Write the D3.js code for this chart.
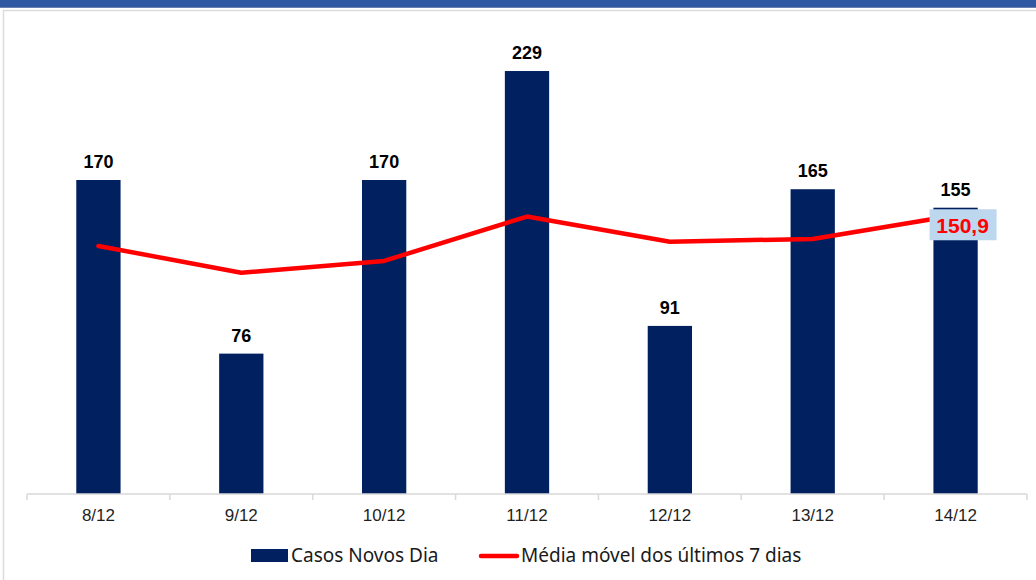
<!DOCTYPE html>
<html>
<head>
<meta charset="utf-8">
<script src="https://cdn.jsdelivr.net/npm/d3@7"></script>
<style>
  html, body { margin: 0; padding: 0; background: #fff; }
  svg { display: block; }
</style>
</head>
<body>
<svg id="chart" width="1036" height="580"></svg>
<script>
// data
const categories = ['8/12', '9/12', '10/12', '11/12', '12/12', '13/12', '14/12'];
const casosNovos = [170, 76, 170, 229, 91, 165, 155];
const mediaMovel = [134.3, 119.8, 126.2, 150.2, 136.6, 138.1, 150.9];
const seriesNames = ['Casos Novos Dia', 'Média móvel dos últimos 7 dias'];

const svg = d3.select('#chart');
const W = 1036, H = 580;

// top band + frame
svg.append('rect').attr('x', 0).attr('y', 0).attr('width', W).attr('height', 8).attr('fill', '#3057a2');
svg.append('rect').attr('x', 0).attr('y', 7).attr('width', W).attr('height', 1).attr('fill', '#6a7fb0');
svg.append('rect').attr('x', 3.5).attr('y', 10.5).attr('width', W + 10).attr('height', H)
  .attr('fill', '#fff').attr('stroke', '#dcdcdc').attr('stroke-width', 1.5);

const left = 27, right = 1027, base = 494;

const x = d3.scaleBand().domain(categories).range([left, right]).paddingInner(0.69).paddingOuter(0.345);
const xb = d3.scaleBand().domain(categories).range([left, right]);
const y = d3.scaleLinear().domain([0, 170]).range([base, 180]);

// bars
svg.append('g').selectAll('rect').data(casosNovos).join('rect')
  .attr('x', (d, i) => x(categories[i]))
  .attr('y', d => y(d))
  .attr('width', x.bandwidth())
  .attr('height', d => base - y(d))
  .attr('fill', '#002060');

// axis
const ax = svg.append('g').attr('transform', `translate(0,${base})`);
ax.append('line').attr('x1', left).attr('x2', right).attr('stroke', '#d9d9d9').attr('stroke-width', 1.5);
ax.selectAll('line.tk').data(categories.concat(['end'])).join('line').attr('class', 'tk')
  .attr('x1', (d, i) => left + i * xb.bandwidth()).attr('x2', (d, i) => left + i * xb.bandwidth())
  .attr('y1', 0).attr('y2', 6).attr('stroke', '#d9d9d9').attr('stroke-width', 1.5);
ax.selectAll('text').data(categories).join('text')
  .attr('x', d => xb(d) + xb.bandwidth() / 2).attr('y', 27)
  .attr('text-anchor', 'middle').attr('font-family', 'Liberation Sans, Arial, sans-serif')
  .attr('font-size', 17).attr('fill', '#1f1f1f').text(d => d);

// bar labels
svg.append('g').selectAll('text').data(casosNovos).join('text')
  .attr('x', (d, i) => xb(categories[i]) + xb.bandwidth() / 2)
  .attr('y', d => y(d) - 12)
  .attr('text-anchor', 'middle').attr('font-family', 'Liberation Sans, Arial, sans-serif')
  .attr('font-weight', 'bold').attr('font-size', 18).attr('fill', '#000')
  .text(d => d);

// moving average line
const line = d3.line().x((d, i) => xb(categories[i]) + xb.bandwidth() / 2).y(d => y(d));
svg.append('path').datum(mediaMovel).attr('d', line)
  .attr('fill', 'none').attr('stroke', '#ff0000').attr('stroke-width', 4.5)
  .attr('stroke-linejoin', 'round').attr('stroke-linecap', 'round');

// last value label
const li = mediaMovel.length - 1;
const lx = xb(categories[li]) + xb.bandwidth() / 2 + 7;
const ly = y(mediaMovel[li]) + 11;
svg.append('rect').attr('x', lx - 33).attr('y', ly - 17).attr('width', 67).attr('height', 31).attr('fill', '#bdd7ee');
svg.append('text').attr('x', lx).attr('y', ly + 7)
  .attr('text-anchor', 'middle').attr('font-family', 'Liberation Sans, Arial, sans-serif')
  .attr('font-weight', 'bold').attr('font-size', 21).attr('fill', '#ff0000')
  .text(d3.format('.1f')(mediaMovel[li]).replace('.', ','));

// legend
const lg = svg.append('g').attr('font-family', 'Noto Sans, Open Sans, sans-serif').attr('font-size', 19).attr('fill', '#1a1a1a');
lg.append('rect').attr('x', 251).attr('y', 549).attr('width', 37).attr('height', 13).attr('fill', '#002060');
lg.append('text').attr('x', 291).attr('y', 562).text(seriesNames[0]);
lg.append('line').attr('x1', 481).attr('x2', 517).attr('y1', 556).attr('y2', 556)
  .attr('stroke', '#ff0000').attr('stroke-width', 4.5).attr('stroke-linecap', 'round');
lg.append('text').attr('x', 521).attr('y', 562).text(seriesNames[1]);
</script>
</body>
</html>
